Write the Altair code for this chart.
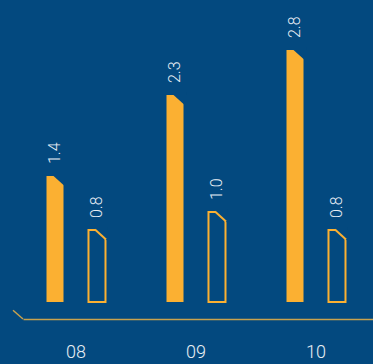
import altair as alt
import pandas as pd

years = ["08", "09", "10"]
series_names = ["A", "B"]
values_a = [1.4, 2.3, 2.8]
values_b = [0.8, 1.0, 0.8]

BG = "#03497f"
ORANGE = "#fbb032"
GOLD = "#c8a24e"
TEXT = "#e8eef4"

rows = []
for y, a, b in zip(years, values_a, values_b):
    rows.append({"year": y, "series": "A", "value": a})
    rows.append({"year": y, "series": "B", "value": b})
df = pd.DataFrame(rows)

x_enc = alt.X("year:N", sort=years,
              scale=alt.Scale(paddingInner=0.5, paddingOuter=0.2083, align=0.46),
              axis=alt.Axis(title=None, labelAngle=0, ticks=False, tickSize=0,
                            domainColor=GOLD, domainWidth=1.5, offset=17,
                            labelFontSize=18, labelColor=TEXT, labelFont="Roboto",
                            labelFontWeight=300, labelPadding=24, grid=False))
xo_enc = alt.XOffset("series:N", scale=alt.Scale(domain=series_names,
                                                 paddingInner=0.595, paddingOuter=0.012))
y_enc = alt.Y("value:Q", scale=alt.Scale(domain=[0, 3.356], nice=False, zero=True),
              axis=None)

base = alt.Chart(df).encode(x=x_enc, xOffset=xo_enc, y=y_enc)

bars_a = base.transform_filter("datum.series == 'A'").mark_bar(fill=ORANGE)
bars_b = base.transform_filter("datum.series == 'B'").mark_bar(
    fill=BG, stroke=ORANGE, strokeWidth=2)

cover = base.mark_point(
    shape="M-1.5,0L-1.5,-3L11,-3L11,11.25L8.5,9Z", size=4, filled=True,
    fill=BG, fillOpacity=1, opacity=1, strokeWidth=0)

diag = base.transform_filter("datum.series == 'B'").mark_point(
    shape="M-2,-0.45L9,9.45", size=4, filled=False, stroke=ORANGE,
    strokeWidth=2, opacity=1)

labels = base.mark_text(angle=270, align="left", baseline="middle", dx=12,
                        fontSize=16, font="Roboto", fontWeight=300,
                        color=TEXT).encode(
    text=alt.Text("value:Q", format=".1f"))

axis_tick = alt.Chart(pd.DataFrame({"k": [0]})).mark_point(
    shape="M-10,-8.7L0,0", size=4, filled=False, stroke=GOLD,
    strokeWidth=1.5, opacity=1).encode(x=alt.value(0), y=alt.value(319))

chart = alt.layer(bars_a, bars_b, cover, diag, labels, axis_tick).properties(
    width=350, height=302,
    autosize=alt.AutoSizeParams(type="none"),
    padding={"left": 23, "top": 0, "right": 0, "bottom": 62},
    background=BG,
).configure_view(stroke=None)

chart.save("out.html", embed_options={"renderer": "svg", "actions": False})
